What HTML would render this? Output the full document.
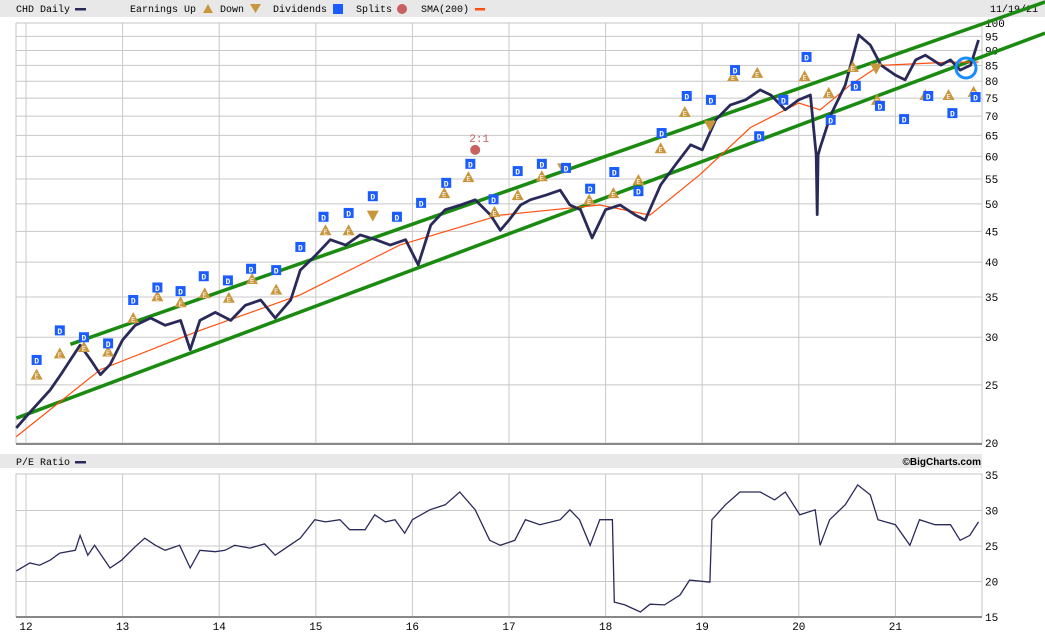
<!DOCTYPE html>
<html><head><meta charset="utf-8"><style>
html,body{margin:0;padding:0;background:#fff;}
svg{display:block;font-family:"Liberation Mono",monospace;}
</style></head><body>
<svg id="c" width="1045" height="635" viewBox="0 0 1045 635" xmlns="http://www.w3.org/2000/svg">
<rect x="0" y="0" width="1045" height="17" fill="#e8e8e8"/>
<g font-size="10" fill="#000">
<text x="16" y="12">CHD Daily</text>
<rect x="75" y="8" width="11" height="2.5" fill="#2a2a5a"/>
<text x="130" y="12">Earnings Up</text>
<path d="M203,13 L208,4 L213,13 Z" fill="#c8963c"/>
<text x="220" y="12">Down</text>
<path d="M250,4 L261,4 L255.5,13 Z" fill="#c8963c"/>
<text x="273" y="12">Dividends</text>
<rect x="333" y="4" width="10" height="10" fill="#1a5cff"/>
<text x="356" y="12">Splits</text>
<circle cx="402" cy="9" r="5" fill="#c86060"/>
<text x="421" y="12">SMA(200)</text>
<rect x="475" y="8" width="10" height="2.5" fill="#ff5010"/>
<text x="990" y="12">11/19/21</text>
</g>
<rect x="0" y="454" width="982" height="14" fill="#e8e8e8"/>
<text x="16" y="465" font-size="10">P/E Ratio</text>
<rect x="75" y="461" width="11" height="2.5" fill="#2a2a5a"/>
<text x="981" y="465" font-size="10" font-weight="bold" text-anchor="end" font-family="Liberation Sans,sans-serif">©BigCharts.com</text>
<g id="grid"></g>
<g id="marks"></g>
</svg>
<script>
const priceT=[11.90,12.04,12.25,12.36,12.46,12.56,12.67,12.77,12.87,13.00,13.13,13.29,13.44,13.60,13.70,13.80,13.96,14.12,14.27,14.43,14.58,14.74,14.84,15.00,15.15,15.31,15.46,15.62,15.77,15.93,16.06,16.19,16.34,16.50,16.65,16.81,16.91,17.00,17.12,17.22,17.38,17.53,17.63,17.74,17.86,18.00,18.15,18.31,18.41,18.57,18.72,18.88,19.00,19.14,19.29,19.45,19.60,19.71,19.86,20.00,20.12,20.18,20.19,20.20,20.22,20.33,20.48,20.62,20.74,20.85,21.00,21.10,21.21,21.31,21.47,21.57,21.67,21.78,21.86];
const priceV=[21.2,22.5,24.5,26.0,27.5,29.1,27.5,26.0,27.0,29.7,31.4,32.3,31.4,32.0,28.6,32.0,33.0,32.0,33.9,34.6,32.3,34.6,38.8,41.1,43.6,42.7,44.4,43.6,42.7,43.6,39.6,46.1,48.9,49.8,50.8,47.9,45.2,47.0,49.8,50.8,51.7,52.7,49.8,48.9,43.9,48.9,49.8,47.9,47.0,53.8,58.0,62.7,61.5,69.0,73.0,74.5,77.4,75.9,71.7,74.5,75.9,60.3,48.0,60.3,62.0,70.3,78.8,95.5,91.9,85.1,81.9,80.4,86.8,88.4,85.1,86.8,83.5,85.1,93.7];
const smaT=[11.90,12.77,13.80,14.84,15.87,16.91,17.94,18.46,18.98,19.50,20.00,20.22,20.53,20.84,21.57,21.86];
const smaV=[20.5,26.5,30.8,35.3,42.7,47.9,49.8,47.9,56.0,67.0,73.6,71.7,78.8,85.0,86.1,86.1];
const peT=[11.90,12.04,12.14,12.25,12.35,12.51,12.56,12.64,12.71,12.87,12.99,13.13,13.23,13.34,13.44,13.59,13.70,13.80,13.96,14.06,14.16,14.32,14.47,14.58,14.73,14.84,14.99,15.10,15.25,15.35,15.51,15.61,15.72,15.82,15.92,16.00,16.18,16.34,16.49,16.65,16.80,16.91,17.06,17.17,17.32,17.53,17.63,17.73,17.84,17.94,18.07,18.09,18.20,18.36,18.46,18.61,18.77,18.87,19.08,19.10,19.24,19.39,19.60,19.75,19.86,20.01,20.17,20.22,20.32,20.48,20.61,20.74,20.82,21.00,21.15,21.25,21.41,21.57,21.67,21.77,21.86];
const peV=[21.5,22.6,22.3,23.0,24.0,24.4,26.5,23.7,25.1,21.9,23.0,24.9,26.1,25.1,24.4,25.1,21.9,24.4,24.2,24.4,25.1,24.7,25.3,23.7,25.1,26.1,28.7,28.4,28.7,27.3,27.3,29.4,28.4,28.7,26.8,28.7,30.1,30.8,32.6,30.1,25.8,25.1,25.8,28.7,28.0,28.7,30.1,28.7,25.1,28.7,28.7,17.1,16.7,15.7,16.8,16.7,18.1,20.2,19.9,28.7,30.8,32.6,32.6,31.5,32.6,29.4,30.1,25.1,28.7,30.8,33.6,32.2,28.7,28.0,25.1,28.7,28.0,28.0,25.8,26.5,28.4];
const earnUpT=[12.11,12.35,12.60,12.85,13.11,13.36,13.60,13.85,14.10,14.34,14.59,15.10,15.34,16.33,16.58,16.85,17.09,17.34,17.83,18.08,18.34,18.57,18.82,19.32,19.57,20.06,20.31,20.56,20.81,21.31,21.55,21.81];
const earnUpV=[26.0,28.2,28.9,28.4,32.3,35.1,34.3,35.5,34.9,37.5,36.0,45.2,45.2,52.1,55.4,48.5,51.7,55.6,50.8,52.1,54.8,61.9,71.1,81.6,82.6,81.6,76.5,84.5,74.5,75.9,75.9,76.8];
const earnDnT=[15.59,17.56,19.08,20.80];
const earnDnV=[47.8,57.3,67.5,84.0];
const divT=[12.11,12.35,12.60,12.85,13.11,13.36,13.60,13.84,14.09,14.33,14.59,14.84,15.08,15.34,15.59,15.84,16.09,16.35,16.60,16.84,17.09,17.34,17.59,17.84,18.09,18.34,18.58,18.84,19.09,19.34,19.59,19.84,20.08,20.33,20.59,20.84,21.09,21.34,21.59,21.83];
const divV=[27.5,30.8,30.0,29.3,34.6,36.3,35.8,37.9,37.3,39.0,38.8,42.4,47.6,48.3,51.5,47.6,50.2,54.2,58.3,50.9,56.7,58.3,57.4,53.0,56.5,52.5,65.6,75.6,74.5,83.5,64.8,74.5,87.8,69.0,78.6,72.8,69.2,75.6,70.8,75.3];
const splitT=[16.65];const splitV=[61.5];const splitLbl=["2:1"];
const priceTicks=[100,95,90,85,80,75,70,65,60,55,50,45,40,35,30,25,20];
const peTicks=[35,30,25,20,15];
const yearTicks=[12,13,14,15,16,17,18,19,20,21];

const NS="http://www.w3.org/2000/svg";
const X=t=>26+(t-12)*96.6;
const YP=p=>23+261*Math.log(100/p);
const YE=v=>475+(35-v)*7.1;
const L=16,R=982,T1=23,B1=444,T2=474,B2=617;
const svg=document.getElementById('c'),grid=document.getElementById('grid'),marks=document.getElementById('marks');
function mk(tag,a,p){const e=document.createElementNS(NS,tag);for(const k in a)e.setAttribute(k,a[k]);(p||marks).appendChild(e);return e;}
priceTicks.forEach(p=>{const y=YP(p);
 const g=mk('line',{x1:L,x2:R,y1:y,y2:y,stroke:'#c8c8c8','stroke-width':1},grid);
 
 const t=mk('text',{x:985,y:y+4,'font-size':11},grid);t.textContent=p;
 });
peTicks.forEach(v=>{const y=YE(v);
 if(v<35&&v>15){const g=mk('line',{x1:L,x2:R,y1:y,y2:y,stroke:'#c8c8c8','stroke-width':1},grid);
 }
 const t=mk('text',{x:985,y:y+4,'font-size':11},grid);t.textContent=v;
 });
yearTicks.forEach(yr=>{const x=X(yr);
 [[T1,B1],[T2,B2]].forEach(r=>{const g=mk('line',{x1:x,x2:x,y1:r[0],y2:r[1],stroke:'#c8c8c8','stroke-width':1},grid);
 });
 const t=mk('text',{x:x,y:630,'font-size':11,'text-anchor':'middle'},grid);t.textContent=yr;
 });
[[T1,B1],[T2,B2]].forEach(r=>{
 const f=mk('path',{d:`M${L},${r[0]} H${R} V${r[1]} M${L},${r[0]} V${r[1]}`,fill:'none',stroke:'#c4c4c4'},grid);
 
 const b=mk('line',{x1:L,x2:R,y1:r[1],y2:r[1],stroke:'#888','stroke-width':2},grid);
 });
function poly(ts,vs,yf,attrs,name){const d=ts.map((t,i)=>(i?'L':'M')+X(t).toFixed(1)+','+yf(vs[i]).toFixed(1)).join('');
 const e=mk('path',Object.assign({d:d,fill:'none'},attrs));return e;}
const cl=mk('clipPath',{id:'cp'},svg);mk('rect',{x:0,y:0,width:1045,height:444},cl);
const chan=[[12.46,29.2,22.55,108.4],[11.90,22.0,22.55,96.2]];
chan.forEach((c,i)=>{const e=mk('line',{x1:X(c[0]),y1:YP(c[1]),x2:X(c[2]),y2:YP(c[3]),stroke:'#1a8a10','stroke-width':3.5,'clip-path':'url(#cp)'});
 });
poly(smaT,smaV,YP,{stroke:'#ff5010','stroke-width':1.2},'sma-200-line');
poly(priceT,priceV,YP,{stroke:'#2a2a5a','stroke-width':2.8,'stroke-linejoin':'round'},'price-line');
poly(peT,peV,YE,{stroke:'#2a2a5a','stroke-width':1.3},'pe-ratio-line');
earnUpT.forEach((t,i)=>{const x=X(t),y=YP(earnUpV[i]);
 const e=mk('path',{d:`M${x-6},${y+5}L${x},${y-6}L${x+6},${y+5}Z`,fill:'#c8963c'});
 
 const s=mk('text',{x:x,y:y+4,'font-size':7,fill:'#fff','text-anchor':'middle'});s.textContent='E';});
earnDnT.forEach((t,i)=>{const x=X(t),y=YP(earnDnV[i]);
 const e=mk('path',{d:`M${x-6},${y-5}L${x+6},${y-5}L${x},${y+6}Z`,fill:'#c8963c'});
 });
divT.forEach((t,i)=>{const x=X(t),y=YP(divV[i]);
 const e=mk('rect',{x:x-5,y:y-5,width:10,height:10,fill:'#1a5cff'});
 
 const s=mk('text',{x:x,y:y+3.5,'font-size':8,'font-weight':'bold',fill:'#fff','text-anchor':'middle'});s.textContent='D';});
splitT.forEach((t,i)=>{const x=X(t),y=YP(splitV[i]);
 const e=mk('circle',{cx:x,cy:y,r:5,fill:'#c86060'});
 
 const s=mk('text',{x:x+4,y:y-8,'font-size':11,fill:'#c06060','text-anchor':'middle'});s.textContent=splitLbl[i];
 });
const ring=mk('circle',{cx:966,cy:68,r:10,fill:'none',stroke:'#1a8cff','stroke-width':3});

</script>
</body></html>
